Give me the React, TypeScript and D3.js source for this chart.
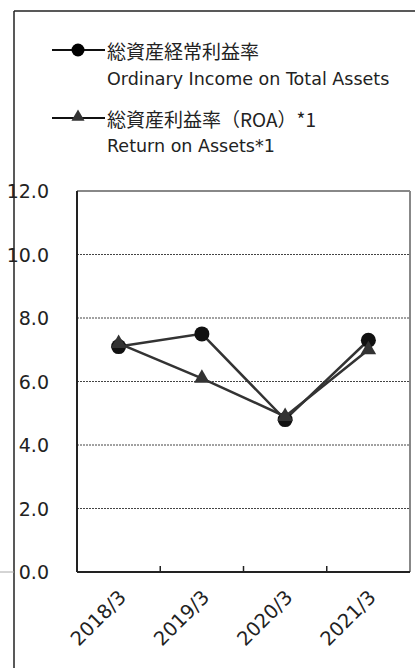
import React from 'react';
import * as d3 from 'd3';

const categories = ['2018/3', '2019/3', '2020/3', '2021/3'];
const ordinaryIncome = [7.1, 7.5, 4.8, 7.3];
const roa = [7.2, 6.1, 4.9, 7.0];
const yTicks = [0, 2, 4, 6, 8, 10, 12];
const legendJa = ['総資産経常利益率', '総資産利益率（ROA）*1'];
const legendEn = ['Ordinary Income on Total Assets', 'Return on Assets*1'];

const W = 415;
const H = 668;
const plot = { left: 77, right: 410, top: 191, bottom: 572 };
const latin = "'DejaVu Sans', Verdana, sans-serif";
const cjk = "'Noto Sans CJK JP', 'DejaVu Sans', sans-serif";

export default function App() {
  const x = d3.scaleBand<string>().domain(categories).range([plot.left, plot.right]);
  const y = d3.scaleLinear().domain([0, 12]).range([plot.bottom, plot.top]);
  const cx = (c: string) => (x(c) as number) + x.bandwidth() / 2;
  const line = d3
    .line<number>()
    .x((_, i) => cx(categories[i]))
    .y((d) => y(d));
  const tri = d3.symbol().type(d3.symbolTriangle).size(105)();
  const triSmall = d3.symbol().type(d3.symbolTriangle).size(75)();

  return (
    <svg
      width={W}
      height={H}
      style={{ position: 'absolute', left: 0, top: 0, background: '#fff' }}
    >
      {/* outer frame */}
      <line x1={14} y1={11} x2={W} y2={11} stroke="#222" strokeWidth={1.5} />
      <line x1={14} y1={11} x2={14} y2={H} stroke="#222" strokeWidth={1.5} />
      <line x1={0} y1={572} x2={14} y2={572} stroke="#aaa" strokeWidth={1} />

      {/* legend */}
      <g>
        <line x1={52} y1={50} x2={105} y2={50} stroke="#111" strokeWidth={2} />
        <circle cx={78} cy={50} r={6.5} fill="#000" />
        <text x={107} y={50} dominantBaseline="central" fontFamily={cjk} fontSize={19} fill="#222">
          {legendJa[0]}
        </text>
        <text x={107} y={79} dominantBaseline="central" fontFamily={latin} fontSize={17.5} fill="#222">
          {legendEn[0]}
        </text>
        <line x1={52} y1={118} x2={105} y2={118} stroke="#111" strokeWidth={2} />
        <path d={triSmall} transform={`translate(78,117)`} fill="#333" />
        <text x={107} y={118} dominantBaseline="central" fontFamily={cjk} fontSize={19} fill="#222">
          {legendJa[1]}
        </text>
        <text x={107} y={146} dominantBaseline="central" fontFamily={latin} fontSize={17.5} fill="#222">
          {legendEn[1]}
        </text>
      </g>

      {/* grid lines */}
      {yTicks
        .filter((t) => t !== 0 && t !== 12)
        .map((t) => (
          <line
            key={t}
            x1={plot.left}
            x2={plot.right}
            y1={y(t)}
            y2={y(t)}
            stroke="#444"
            strokeWidth={1}
            strokeDasharray="2,1"
          />
        ))}

      {/* plot frame: top/right gray, left/bottom dark */}
      <line x1={plot.left} y1={plot.top} x2={plot.right} y2={plot.top} stroke="#888" strokeWidth={2} />
      <line x1={plot.right} y1={plot.top} x2={plot.right} y2={plot.bottom} stroke="#888" strokeWidth={2} />
      <line x1={plot.left} y1={plot.top} x2={plot.left} y2={plot.bottom} stroke="#222" strokeWidth={2} />
      <line x1={plot.left} y1={plot.bottom} x2={plot.right} y2={plot.bottom} stroke="#222" strokeWidth={2} />

      {/* x ticks */}
      {categories.slice(1).map((c) => (
        <line
          key={c}
          x1={x(c) as number}
          x2={x(c) as number}
          y1={plot.bottom}
          y2={plot.bottom - 6}
          stroke="#222"
          strokeWidth={1.5}
        />
      ))}

      {/* y labels */}
      {yTicks.map((t) => (
        <text
          key={t}
          x={49}
          y={y(t)}
          textAnchor="end"
          dominantBaseline="central"
          fontFamily={latin}
          fontSize={19}
          fill="#222"
        >
          {t.toFixed(1)}
        </text>
      ))}

      {/* x labels */}
      {categories.map((c) => {
        const px = cx(c) + 4;
        const py = 594;
        return (
          <text
            key={c}
            x={px}
            y={py}
            textAnchor="end"
            dominantBaseline="central"
            fontFamily={latin}
            fontSize={19.5}
            fill="#222"
            transform={`rotate(-45 ${px} ${py})`}
          >
            {c}
          </text>
        );
      })}

      {/* series: ordinary income (circles) */}
      <path d={line(ordinaryIncome) as string} fill="none" stroke="#333" strokeWidth={2.5} />
      {ordinaryIncome.map((v, i) => (
        <circle key={i} cx={cx(categories[i])} cy={y(v)} r={7.5} fill="#111" />
      ))}

      {/* series: ROA (triangles) */}
      <path d={line(roa) as string} fill="none" stroke="#333" strokeWidth={2.5} />
      {roa.map((v, i) => (
        <path key={i} d={tri} transform={`translate(${cx(categories[i])},${y(v)})`} fill="#333" />
      ))}
    </svg>
  );
}
